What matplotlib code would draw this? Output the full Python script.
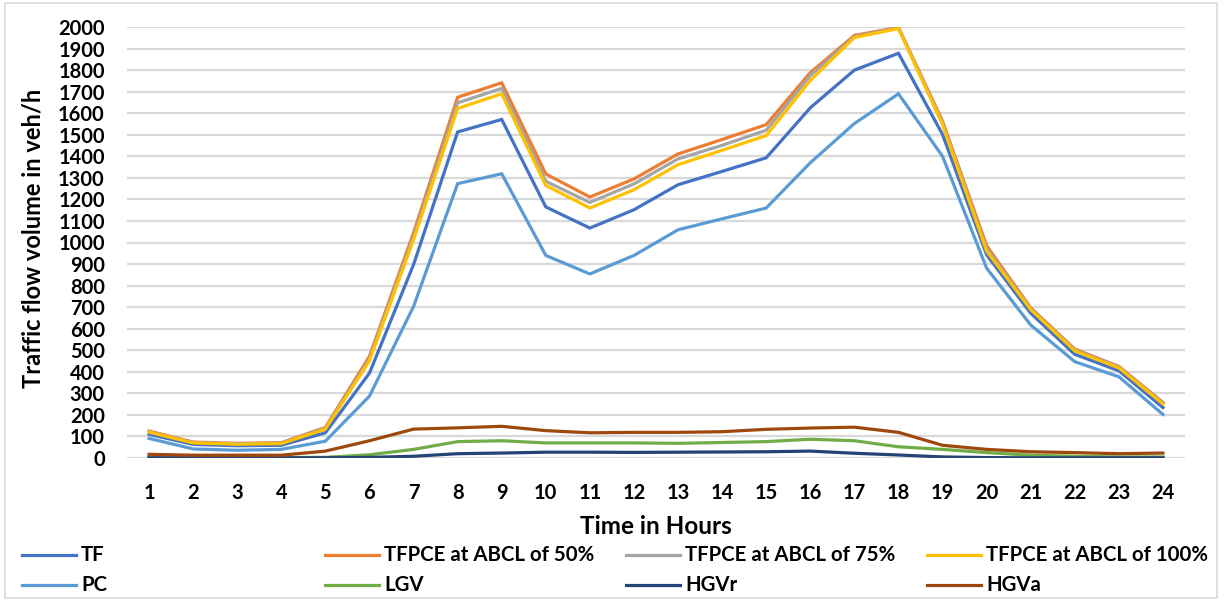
import matplotlib
matplotlib.use("Agg")
import matplotlib.pyplot as plt
from matplotlib.lines import Line2D
from matplotlib.patches import Rectangle

plt.rcParams['font.family'] = ['Lato', 'DejaVu Sans']
plt.rcParams['font.weight'] = 'bold'

hours = list(range(1, 25))

tf = [110, 63, 57, 59, 117, 394, 897, 1513, 1571, 1165, 1067, 1152,
      1268, 1330, 1393, 1625, 1800, 1878, 1501, 943, 672, 481, 405, 234]
tfpce_50 = [125, 74, 68, 71, 142, 472, 1045, 1674, 1741, 1318, 1211, 1295,
            1411, 1478, 1547, 1788, 1961, 1998, 1563, 985, 697, 505, 425, 258]
tfpce_75 = [122, 72, 66, 69, 138, 462, 1030, 1648, 1715, 1284, 1186, 1272,
            1388, 1451, 1521, 1775, 1955, 1996, 1556, 972, 693, 501, 422, 255]
tfpce_100 = [120, 70, 64, 67, 134, 451, 1013, 1622, 1690, 1265, 1160, 1245,
             1361, 1428, 1496, 1752, 1951, 1993, 1548, 960, 689, 497, 418, 251]
pc = [91, 42, 36, 40, 78, 287, 703, 1273, 1319, 940, 854, 940,
      1059, 1110, 1160, 1370, 1552, 1690, 1400, 881, 617, 447, 377, 202]
lgv = [3, 2, 2, 2, 3, 15, 40, 76, 80, 70, 70, 70,
       68, 72, 76, 87, 80, 52, 40, 25, 13, 8, 5, 5]
hgv_r = [1, 1, 1, 1, 1, 3, 8, 20, 23, 27, 27, 26,
         27, 28, 29, 32, 22, 14, 5, 2, 1, 1, 1, 1]
hgv_a = [17, 13, 13, 13, 32, 80, 134, 140, 147, 127, 117, 119,
         119, 122, 133, 139, 143, 119, 59, 40, 29, 25, 20, 23]

series_names = ["TF", "TFPCE at ABCL of 50%", "TFPCE at ABCL of 75%",
                "TFPCE at ABCL of 100%", "PC", "LGV", "HGVr", "HGVa"]
series_values = [tf, tfpce_50, tfpce_75, tfpce_100, pc, lgv, hgv_r, hgv_a]
colors = ["#4472C4", "#ED7D31", "#A5A5A5", "#FFC000",
          "#5B9BD5", "#70AD47", "#264478", "#9E480E"]
y_ticks = list(range(0, 2001, 100))

W, H = 1227, 600
fig = plt.figure(figsize=(W / 100, H / 100), dpi=100)
ax = fig.add_axes([127 / W, 1 - 458 / H, (1185 - 127) / W, (458 - 27) / H])

for vals, col, name in zip(series_values, colors, series_names):
    ax.plot(hours, vals, color=col, lw=2.3, label=name,
            solid_joinstyle='miter', zorder=3)

ax.set_xlim(0.5, 24.5)
ax.set_ylim(0, 2000)
ax.set_yticks(y_ticks)
ax.set_xticks(hours)
ax.grid(axis='y', color='#D9D9D9', lw=1.6, zorder=0)
for s in ax.spines.values():
    s.set_visible(False)
ax.tick_params(axis='both', length=0, labelsize=14.5)
ax.tick_params(axis='x', pad=18)
ax.tick_params(axis='y', pad=16)
for lab in ax.get_xticklabels() + ax.get_yticklabels():
    lab.set_fontweight('bold')

fig.text(33 / W, 1 - 238 / H, "Traffic flow volume in veh/h", rotation=90,
         ha='center', va='center', fontsize=17, fontweight='bold')
fig.text(656 / W, 1 - 527 / H, "Time in Hours", ha='center', va='center',
         fontsize=17.5, fontweight='bold')

# legend laid out in equal-width columns, two rows
col_x = [22, 325, 626, 927]
row_y = [555, 585]
for i, (name, col) in enumerate(zip(series_names, colors)):
    r, c = divmod(i, 4)
    x0 = col_x[c]
    y = 1 - row_y[r] / H
    fig.add_artist(Line2D([x0 / W, (x0 + 54) / W], [y, y], color=col, lw=2.3,
                          transform=fig.transFigure))
    fig.text((x0 + 59) / W, y, name, ha='left', va='center', fontsize=14.7,
             fontweight='bold')

fig.add_artist(Rectangle((5 / W, 2 / H), 1212 / W, 595 / H, fill=False,
                         edgecolor='#D9D9D9', lw=1.2,
                         transform=fig.transFigure))

fig.savefig("out.png", dpi=100)
